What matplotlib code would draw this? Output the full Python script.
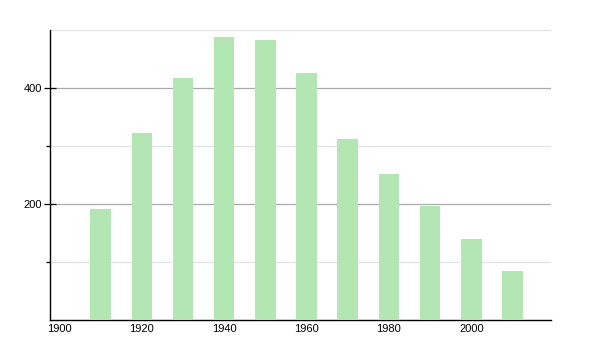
import matplotlib.pyplot as plt
import numpy as np

years = [1910, 1920, 1930, 1940, 1950, 1960, 1970, 1980, 1990, 2000, 2010]
population = [191, 322, 418, 488, 483, 426, 312, 252, 197, 140, 84]
x_ticks = [1900, 1920, 1940, 1960, 1980, 2000]

plt.rcParams['font.family'] = ['Liberation Sans', 'DejaVu Sans']

fig = plt.figure(figsize=(6, 3.5), dpi=100)
ax = fig.add_axes([0.084, 0.0857, 0.834, 0.828])

ax.bar(years, population, width=5, color='#b3e6b3', edgecolor='none', zorder=3)

ax.set_xlim(1897.8, 2019.3)
ax.set_ylim(0, 500)

# gridlines: darker at labelled values, lighter in between
for v in [200, 400]:
    ax.axhline(v, color='#aaaaaa', lw=0.9, zorder=1)
for v in [100, 300, 500]:
    ax.axhline(v, color='#e2e2e2', lw=0.9, zorder=1)

ax.set_yticks([200, 400])
ax.set_yticks([100, 300], minor=True)
ax.set_xticks(x_ticks)
ax.tick_params(axis='y', which='major', direction='inout', length=8, width=0.9,
               labelsize=8, pad=2)
ax.tick_params(axis='y', which='minor', direction='out', length=3, width=0.9)
ax.tick_params(axis='x', length=0, labelsize=8, pad=3)

for s in ['top', 'right']:
    ax.spines[s].set_visible(False)
for s in ['left', 'bottom']:
    ax.spines[s].set_linewidth(1.0)
    ax.spines[s].set_color('black')

fig.savefig('out.png', dpi=100)
